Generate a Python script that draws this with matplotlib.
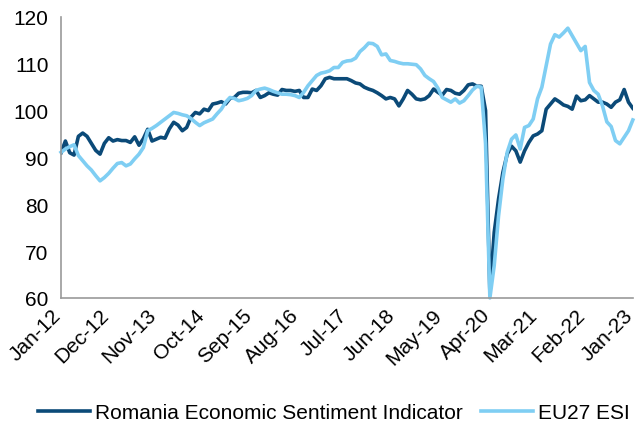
import numpy as np
import matplotlib.pyplot as plt
from matplotlib.transforms import ScaledTranslation

plt.rcParams['font.family'] = ['Liberation Sans', 'DejaVu Sans']

# monthly values, Jan-12 .. Jan-23
romania_esi = [
    91.0, 93.5, 91.0, 90.5, 94.5, 95.2, 94.5, 93.0, 91.5, 90.7, 93.0, 94.2,
    93.5, 93.8, 93.6, 93.6, 93.2, 94.4, 92.6, 94.0, 96.0, 93.5, 93.9, 94.3,
    94.1, 96.1, 97.5, 96.9, 95.7, 96.4, 98.6, 99.6, 99.3, 100.3, 100.0, 101.4,
    101.6, 101.9, 101.4, 102.6, 102.8, 103.7, 103.9, 103.9, 103.8, 104.3, 102.8, 103.2,
    103.8, 103.5, 103.3, 104.5, 104.3, 104.3, 104.1, 104.3, 102.8, 102.8, 104.6, 104.3,
    105.3, 106.8, 107.1, 106.8, 106.8, 106.8, 106.8, 106.4, 105.9, 105.7, 105.0, 104.6,
    104.3, 103.8, 103.2, 102.5, 102.8, 102.5, 101.0, 102.5, 104.3, 103.5, 102.5, 102.3,
    102.5, 103.2, 104.6, 103.9, 103.3, 104.5, 104.3, 103.7, 103.5, 104.3, 105.5, 105.7,
    105.2, 105.2, 100.0, 61.0, 74.0, 81.1, 86.8, 90.7, 92.4, 91.4, 89.0, 91.4,
    93.2, 94.6, 95.0, 95.7, 100.3, 101.4, 102.5, 101.9, 101.2, 100.9, 100.3, 103.1,
    102.1, 102.3, 103.2, 102.5, 101.8, 101.8, 101.4, 100.7, 101.8, 102.3, 104.5, 101.8,
    100.5,
]
eu27_esi = [
    91.1, 91.8, 92.3, 92.7, 90.4, 89.3, 88.2, 87.3, 86.1, 85.0, 85.7, 86.6,
    87.7, 88.7, 88.9, 88.2, 88.6, 89.7, 90.7, 92.1, 95.7, 96.2, 96.8, 97.5,
    98.2, 98.9, 99.6, 99.4, 99.1, 98.9, 98.3, 97.5, 96.8, 97.4, 97.8, 98.2,
    99.3, 100.3, 101.8, 102.8, 102.6, 102.1, 102.3, 102.6, 103.2, 104.3, 104.6, 104.8,
    104.5, 104.1, 103.8, 103.5, 103.5, 103.4, 103.2, 102.8, 103.9, 105.3, 106.4, 107.5,
    108.0, 108.2, 108.5, 109.2, 109.2, 110.3, 110.6, 110.7, 111.2, 112.6, 113.4, 114.4,
    114.3, 113.7, 111.9, 112.1, 110.7, 110.5, 110.2, 110.0, 110.0, 109.9, 109.8, 108.9,
    107.5, 106.8, 106.2, 104.8, 102.8, 102.3, 101.8, 102.5, 101.6, 102.1, 103.2, 104.4,
    105.2, 105.0, 93.0, 60.0, 66.9, 77.5, 85.4, 91.1, 93.9, 94.8, 91.8, 96.4,
    96.8, 98.2, 102.5, 105.0, 109.6, 114.2, 116.2, 115.7, 116.6, 117.6, 116.0, 114.4,
    112.8, 113.7, 106.0, 104.3, 103.5, 101.0, 97.6, 96.6, 93.6, 92.9, 94.3, 95.7,
    98.0,
]
tick_labels = ['Jan-12', 'Dec-12', 'Nov-13', 'Oct-14', 'Sep-15', 'Aug-16', 'Jul-17',
               'Jun-18', 'May-19', 'Apr-20', 'Mar-21', 'Feb-22', 'Jan-23']

months = np.arange(len(romania_esi))

fig = plt.figure(figsize=(6.36, 4.27), dpi=100)
ax = fig.add_axes([0.096, 0.300, 0.899, 0.658])

ax.plot(months, romania_esi, color='#0B4A78', lw=2.6,
        label='Romania Economic Sentiment Indicator')
ax.plot(months, eu27_esi, color='#7FCEF3', lw=2.6, label='EU27 ESI', clip_on=False)

ax.set_xlim(0, len(months) - 1)
ax.set_ylim(60, 120)
ax.set_yticks(range(60, 121, 10))
ax.set_xticks(months[::11])
ax.set_xticklabels(tick_labels, rotation=45, ha='right', va='top',
                   rotation_mode='anchor')
ax.tick_params(axis='y', length=0, labelsize=15, pad=9)
ax.tick_params(axis='x', length=0, labelsize=15, pad=5)

# nudge the slanted labels left so the last one stays inside the figure
shift = ScaledTranslation(-7 / 72, 0, fig.dpi_scale_trans)
for lbl in ax.get_xticklabels():
    lbl.set_transform(lbl.get_transform() + shift)

for side in ['top', 'right']:
    ax.spines[side].set_visible(False)
for side in ['left', 'bottom']:
    ax.spines[side].set_color('#9a9a9a')
    ax.spines[side].set_linewidth(1.2)

fig.legend(loc='lower center', bbox_to_anchor=(0.525, -0.035), ncol=2, frameon=False,
           fontsize=15, handlelength=2.5, handletextpad=0.25, columnspacing=0.85)

fig.savefig('out.png', dpi=100)
